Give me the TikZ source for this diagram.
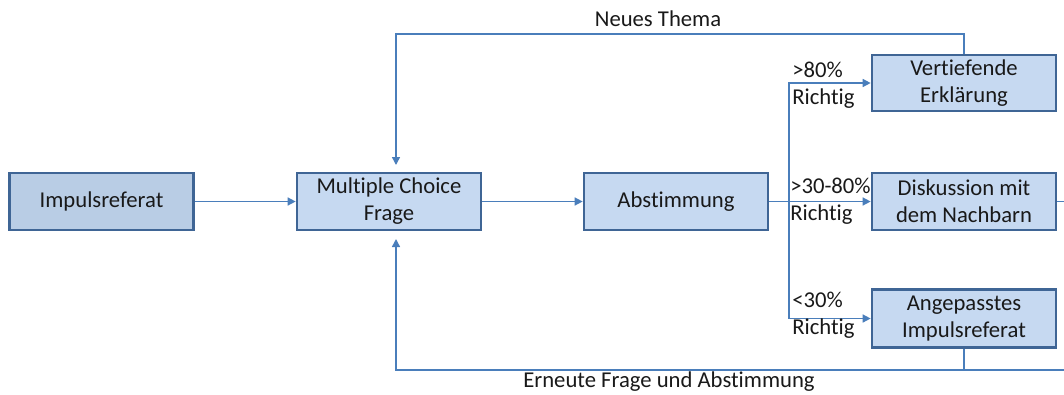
\documentclass[tikz,border=0pt]{standalone}
\usepackage{fontspec}
\setmainfont{Carlito}[Ligatures={NoCommon}]
\usetikzlibrary{arrows.meta}
\definecolor{boxfill}{HTML}{C6D9F1}
\definecolor{boxfillB}{HTML}{B9CDE5}
\definecolor{boxline}{HTML}{3F6595}
\definecolor{conn}{HTML}{4A7EBB}
\tikzset{
  flowbox/.style={draw=boxline, line width=2pt, fill=boxfill, minimum width=184*0.75pt, minimum height=57*0.75pt, align=center, inner sep=0pt, font=\fontsize{17}{20.3}\selectfont, text=black!90},
  conline/.style={draw=conn, line width=1.1pt},
  conarrow/.style={conline, -{Triangle[length=6pt,width=6pt]}},
  lbl/.style={font=\fontsize{17}{20.5}\selectfont, text=black!90, inner sep=0pt, align=left, anchor=west},
  plainlbl/.style={font=\fontsize{17}{20}\selectfont, text=black!90, inner sep=0pt},
}
\begin{document}
\begin{tikzpicture}[x=0.75pt, y=-0.75pt]
\useasboundingbox (0,0) rectangle (1064,394);
\node[flowbox, fill=boxfillB] (imp) at (101.5,201.5) {Impulsreferat};
\node[flowbox] (mc) at (389,201.5) {Multiple Choice\\Frage};
\node[flowbox] (ab) at (676,201.5) {Abstimmung};
\node[flowbox, minimum height=56*0.75pt] (ve) at (964,83) {Vertiefende\\Erklärung};
\node[flowbox] (di) at (964,201.5) {Diskussion mit\\dem Nachbarn};
\node[flowbox, minimum height=58*0.75pt] (an) at (964,318.5) {Angepasstes\\Impulsreferat};

\coordinate (split) at (789,201.5);
\coordinate (t1) at (964,34);
\coordinate (t2) at (396,34);
\coordinate (b1) at (964,370);
\coordinate (b2) at (396,370);
\coordinate (bR) at (1064,370);
\coordinate (dR) at (1064,201.5);
\coordinate (mcT) at (396,165);
\coordinate (mcB) at (396,239);

\draw[conarrow] (imp.east) -- (mc.west);
\draw[conarrow] (mc.east) -- (ab.west);
\draw[conline] (ab.east) -- (split);
\draw[conarrow] (split) |- (ve.west);
\draw[conarrow] (split) -- (di.west);
\draw[conarrow] (split) |- (an.west);
\draw[conline] (di.east) -- (dR);
\draw[conarrow] (ve.north) -- (t1) -- (t2) -- (mcT);
\draw[conarrow] (an.south) -- (b1) -- (b2) -- (mcB);
\draw[conline] (b1) -- (bR);

\node[lbl] (l1) at (792,85) {>80\%\\Richtig};
\node[lbl] (l2) at (790,201) {>30-80\%\\Richtig};
\node[lbl] (l3) at (792,315.5) {<30\%\\Richtig};
\node[plainlbl] (nt) at (658,19) {Neues Thema};
\node[plainlbl] (ef) at (669,382) {Erneute Frage und Abstimmung};
\end{tikzpicture}
\end{document}
